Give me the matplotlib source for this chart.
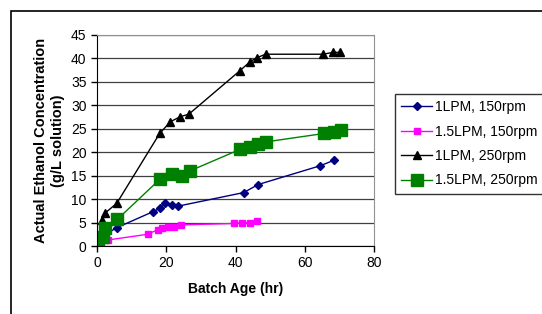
import matplotlib
matplotlib.use("Agg")
import matplotlib.pyplot as plt
from matplotlib.patches import Rectangle

plt.rcParams['font.family'] = ['Liberation Sans', 'DejaVu Sans']

# data
t_1lpm_150 = [0.5, 5.7, 16.1, 18.1, 19.7, 21.6, 23.4, 42.4, 46.5, 64.4, 68.5]
c_1lpm_150 = [1.6, 3.9, 7.3, 8.0, 9.1, 8.7, 8.5, 11.4, 13.1, 17.1, 18.3]

t_15lpm_150 = [0.4, 3.3, 14.6, 17.6, 18.7, 20.4, 22.3, 24.3, 39.5, 41.9, 44.1, 46.1]
c_15lpm_150 = [1.2, 1.3, 2.5, 3.5, 3.8, 4.1, 4.1, 4.5, 4.8, 5.0, 5.0, 5.3]

t_1lpm_250 = [0.4, 1.4, 2.3, 5.7, 18.1, 21.2, 24.1, 26.5, 41.3, 44.2, 46.3, 48.7, 65.3, 68.2, 70.2]
c_1lpm_250 = [1.0, 5.5, 7.0, 9.1, 24.0, 26.5, 27.6, 28.1, 37.4, 39.3, 40.2, 40.9, 40.9, 41.3, 41.3]

t_15lpm_250 = [0.4, 1.6, 2.3, 5.9, 18.1, 21.6, 24.5, 26.8, 41.3, 44.1, 46.6, 48.7, 65.6, 68.5, 70.4]
c_15lpm_250 = [0.9, 2.0, 3.8, 5.7, 14.2, 15.3, 14.9, 16.0, 20.6, 21.2, 21.7, 22.2, 24.0, 24.4, 24.7]

labels = ['1LPM, 150rpm', '1.5LPM, 150rpm', '1LPM, 250rpm', '1.5LPM, 250rpm']
x_ticks = [0, 20, 40, 60, 80]
y_ticks = [0, 5, 10, 15, 20, 25, 30, 35, 40, 45]

fig = plt.figure(figsize=(5.42, 3.14), dpi=100)
ax = fig.add_axes([97 / 542, 68 / 314, 277 / 542, 211 / 314])

ax.plot(t_1lpm_150, c_1lpm_150, color='#000080', marker='D', ms=4.5, lw=1, label=labels[0])
ax.plot(t_15lpm_150, c_15lpm_150, color='#FF00FF', marker='s', ms=4.5, lw=1, label=labels[1])
ax.plot(t_1lpm_250, c_1lpm_250, color='black', marker='^', ms=6, lw=1, label=labels[2])
ax.plot(t_15lpm_250, c_15lpm_250, color='#008000', marker='s', ms=9, lw=1, label=labels[3])

ax.set_xlim(0, 80)
ax.set_ylim(0, 45)
ax.set_xticks(x_ticks)
ax.set_yticks(y_ticks)
ax.tick_params(direction='out', length=4, width=1, labelsize=10, colors='black')
ax.yaxis.grid(True, color='#404040', lw=0.9)
ax.set_axisbelow(True)
for side in ['top', 'right']:
    ax.spines[side].set_color('#909090')
for side in ['left', 'bottom']:
    ax.spines[side].set_color('black')

ax.set_xlabel('Batch Age (hr)', fontsize=10, fontweight='bold', labelpad=8)
ax.set_ylabel('Actual Ethanol Concentration\n(g/L solution)', fontsize=10.5,
              fontweight='bold', labelpad=4, linespacing=1.3)

leg = fig.legend(loc='upper left', bbox_to_anchor=(395 / 542, 1 - 94 / 314),
                 fontsize=10, frameon=True, fancybox=False, handlelength=2.2,
                 labelspacing=0.75, borderpad=0.45, handletextpad=0.2,
                 borderaxespad=0)
leg.get_frame().set_edgecolor('black')
leg.get_frame().set_linewidth(1)

# outer chart frame, cut off at right and bottom
fig.patches.append(Rectangle((11 / 542, -0.1), 1.2, 1 - 11 / 314 + 0.1,
                             transform=fig.transFigure, fill=False,
                             edgecolor='black', lw=1.2))

fig.savefig('out.png', dpi=100)
